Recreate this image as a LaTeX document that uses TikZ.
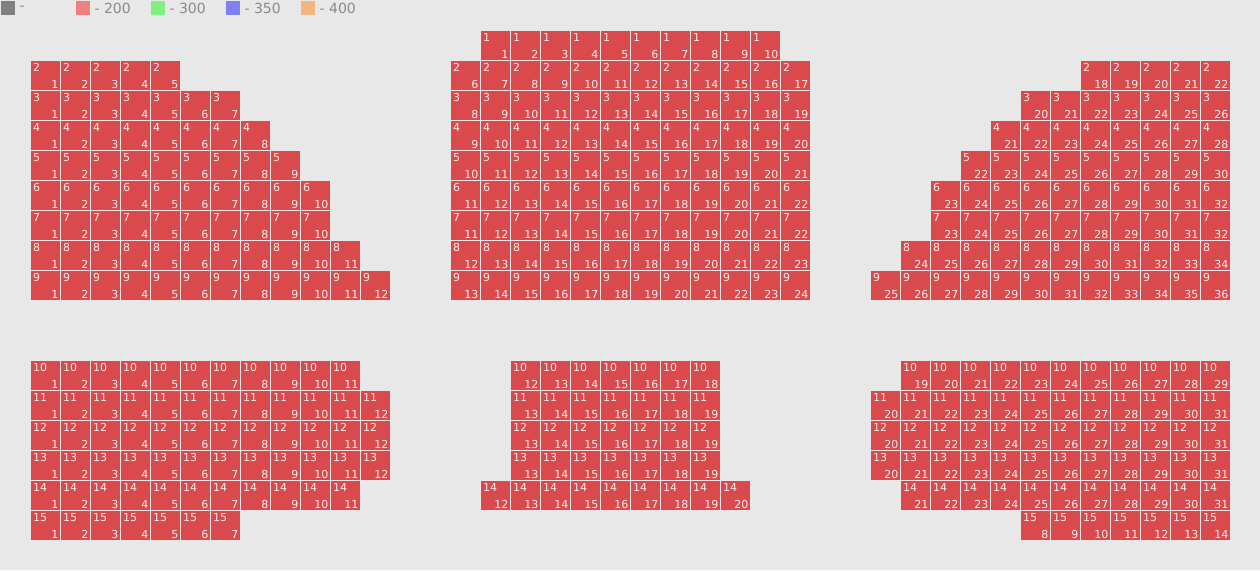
\documentclass[tikz,border=0pt]{standalone}
\usepackage{fontspec}
\setmainfont{DejaVu Sans}
\definecolor{bgc}{HTML}{E8E8E8}
\definecolor{seatc}{HTML}{DA4A4C}
\definecolor{seattxt}{HTML}{F6EEEE}
\definecolor{legtxt}{HTML}{8A8A8A}
\definecolor{lgray}{HTML}{808080}
\definecolor{lred}{HTML}{F08080}
\definecolor{lgreen}{HTML}{80F080}
\definecolor{lblue}{HTML}{8080F0}
\definecolor{lorange}{HTML}{F0B880}
\newcommand\seatrow[5]{%
  \foreach \seatno in {#4,...,#5}{%
    \pgfmathtruncatemacro\colno{#3+\seatno-#4}%
    \node[seatbox] (s#1-\seatno) at (30*\colno+1, 30*#2+1) {};
    \node[rowlbl] at ([xshift=2pt,yshift=-2.5pt]s#1-\seatno.north west) {#1};
    \node[seatlbl] at ([xshift=-1.5pt,yshift=1.5pt]s#1-\seatno.south east) {\seatno};
  }%
}
\begin{document}
\begin{tikzpicture}[x=1pt,y=-1pt,
  seatbox/.style={fill=seatc, draw=none, minimum width=29pt, minimum height=29pt, inner sep=0pt, outer sep=0pt, anchor=north west},
  rowlbl/.style={text=seattxt, font=\fontsize{11}{11}\selectfont, inner sep=0pt, anchor=north west},
  seatlbl/.style={text=seattxt, font=\fontsize{11}{11}\selectfont, inner sep=0pt, anchor=south east},
  legbox/.style={draw=none, minimum width=14pt, minimum height=14pt, inner sep=0pt, anchor=north west},
  legtext/.style={text=legtxt, font=\fontsize{14}{14}\selectfont, inner sep=0pt, anchor=west}]
\fill[bgc] (0,0) rectangle (1260,570);
\useasboundingbox (0,0) rectangle (1260,570);
% legend
\node[legbox, fill=lgray] (lg1) at (1,1) {};
\node[legtext] (lt1) at ([xshift=4pt]lg1.east) {-};
\node[legbox, fill=lred] (lg2) at (76,1) {};
\node[legtext] (lt2) at ([xshift=4pt]lg2.east) {- 200};
\node[legbox, fill=lgreen] (lg3) at (151,1) {};
\node[legtext] (lt3) at ([xshift=4pt]lg3.east) {- 300};
\node[legbox, fill=lblue] (lg4) at (226,1) {};
\node[legtext] (lt4) at ([xshift=4pt]lg4.east) {- 350};
\node[legbox, fill=lorange] (lg5) at (301,1) {};
\node[legtext] (lt5) at ([xshift=4pt]lg5.east) {- 400};
% top left
\seatrow{2}{2}{1}{1}{5}
\seatrow{3}{3}{1}{1}{7}
\seatrow{4}{4}{1}{1}{8}
\seatrow{5}{5}{1}{1}{9}
\seatrow{6}{6}{1}{1}{10}
\seatrow{7}{7}{1}{1}{10}
\seatrow{8}{8}{1}{1}{11}
\seatrow{9}{9}{1}{1}{12}
% top middle
\seatrow{1}{1}{16}{1}{10}
\seatrow{2}{2}{15}{6}{17}
\seatrow{3}{3}{15}{8}{19}
\seatrow{4}{4}{15}{9}{20}
\seatrow{5}{5}{15}{10}{21}
\seatrow{6}{6}{15}{11}{22}
\seatrow{7}{7}{15}{11}{22}
\seatrow{8}{8}{15}{12}{23}
\seatrow{9}{9}{15}{13}{24}
% top right
\seatrow{2}{2}{36}{18}{22}
\seatrow{3}{3}{34}{20}{26}
\seatrow{4}{4}{33}{21}{28}
\seatrow{5}{5}{32}{22}{30}
\seatrow{6}{6}{31}{23}{32}
\seatrow{7}{7}{31}{23}{32}
\seatrow{8}{8}{30}{24}{34}
\seatrow{9}{9}{29}{25}{36}
% bottom left
\seatrow{10}{12}{1}{1}{11}
\seatrow{11}{13}{1}{1}{12}
\seatrow{12}{14}{1}{1}{12}
\seatrow{13}{15}{1}{1}{12}
\seatrow{14}{16}{1}{1}{11}
\seatrow{15}{17}{1}{1}{7}
% bottom middle
\seatrow{10}{12}{17}{12}{18}
\seatrow{11}{13}{17}{13}{19}
\seatrow{12}{14}{17}{13}{19}
\seatrow{13}{15}{17}{13}{19}
\seatrow{14}{16}{16}{12}{20}
% bottom right
\seatrow{10}{12}{30}{19}{29}
\seatrow{11}{13}{29}{20}{31}
\seatrow{12}{14}{29}{20}{31}
\seatrow{13}{15}{29}{20}{31}
\seatrow{14}{16}{30}{21}{31}
\seatrow{15}{17}{34}{8}{14}
\end{tikzpicture}
\end{document}
